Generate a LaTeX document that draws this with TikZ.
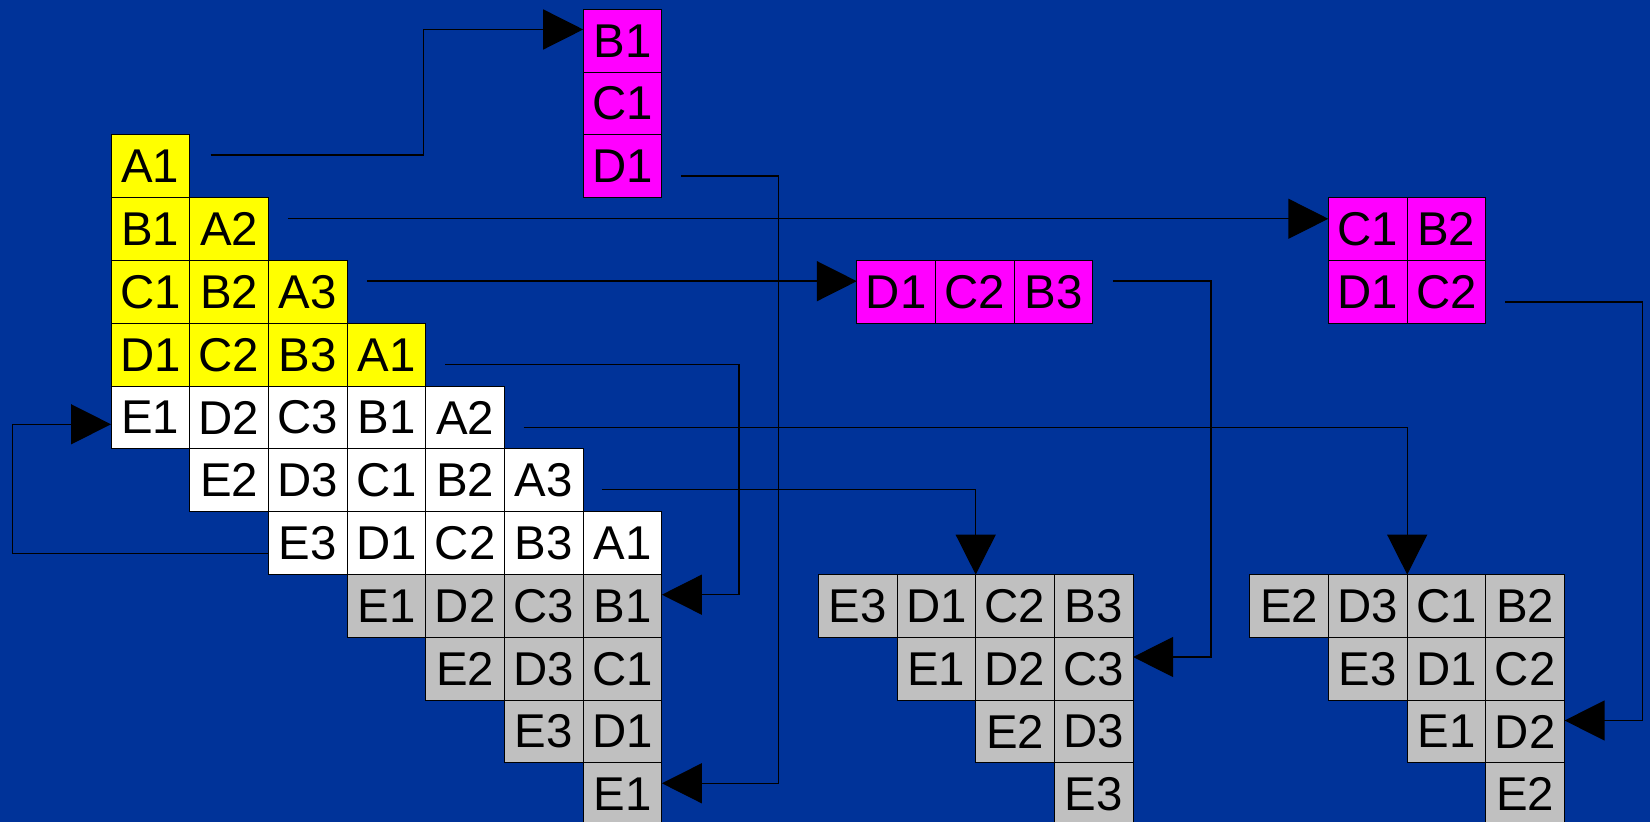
\documentclass[tikz,border=0pt]{standalone}
\usepackage{fontspec}
\setmainfont{Liberation Sans}
\usetikzlibrary{arrows.meta,calc}
\definecolor{bg}{RGB}{0,51,153}
\definecolor{yel}{RGB}{255,255,0}
\definecolor{mag}{RGB}{255,0,255}
\definecolor{gry}{RGB}{192,192,192}
\begin{document}
\begin{tikzpicture}[x=0.5pt,y=-0.5pt,
  cell/.style={draw=black, line width=0.5pt, minimum width=39.35pt, minimum height=31.4pt,
    inner sep=0pt, outer sep=0pt, anchor=north west, font=\fontsize{23.7}{28}\selectfont},
  conn/.style={draw=black, line width=0.7pt, -{Triangle[length=20pt,width=20pt]}}]
\fill[bg] (0,0) rectangle (1650,822);
\useasboundingbox (0,0) rectangle (1650,822);
% main staircase
\foreach \r/\c/\t/\f in {0/0/A1/yel, 1/0/B1/yel, 1/1/A2/yel, 2/0/C1/yel, 2/1/B2/yel, 2/2/A3/yel,
  3/0/D1/yel, 3/1/C2/yel, 3/2/B3/yel, 3/3/A1/yel,
  4/0/E1/white, 4/1/D2/white, 4/2/C3/white, 4/3/B1/white, 4/4/A2/white,
  5/1/E2/white, 5/2/D3/white, 5/3/C1/white, 5/4/B2/white, 5/5/A3/white,
  6/2/E3/white, 6/3/D1/white, 6/4/C2/white, 6/5/B3/white, 6/6/A1/white,
  7/3/E1/gry, 7/4/D2/gry, 7/5/C3/gry, 7/6/B1/gry,
  8/4/E2/gry, 8/5/D3/gry, 8/6/C1/gry,
  9/5/E3/gry, 9/6/D1/gry,
  10/6/E1/gry}
  \node[cell, fill=\f] (m\r-\c) at ({111+\c*78.7},{135+\r*62.8}) {\t};
% top magenta column
\foreach \r/\t/\n in {-2/B1/tB, -1/C1/tC, 0/D1/tD}
  \node[cell, fill=mag] (\n) at (583.2,{135+\r*62.8}) {\t};
% middle magenta row
\foreach \c/\t in {0/D1, 1/C2, 2/B3}
  \node[cell, fill=mag] (q\c) at ({856.8+\c*78.7},{135+2*62.8}) {\t};
% right magenta block
\foreach \r/\c/\t in {1/0/C1, 1/1/B2, 2/0/D1, 2/1/C2}
  \node[cell, fill=mag] (p\r-\c) at ({1328.3+\c*78.7},{135+\r*62.8}) {\t};
% middle gray staircase
\foreach \r/\c/\t in {7/0/E3, 7/1/D1, 7/2/C2, 7/3/B3, 8/1/E1, 8/2/D2, 8/3/C3, 9/2/E2, 9/3/D3, 10/3/E3}
  \node[cell, fill=gry] (g\r-\c) at ({818.3+\c*78.7},{135+\r*62.8}) {\t};
% right gray staircase
\foreach \r/\c/\t in {7/0/E2, 7/1/D3, 7/2/C1, 7/3/B2, 8/1/E3, 8/2/D1, 8/3/C2, 9/2/E1, 9/3/D2, 10/3/E2}
  \node[cell, fill=gry] (h\r-\c) at ({1249.8+\c*78.7},{135+\r*62.8}) {\t};
% connectors
\draw[conn] ($(m0-0.east)+(21,-11.5)$) -- ++(213,0) |- ($(tB.west)+(0,-11.3)$);
\draw[conn] ($(m1-1.east)+(19.5,-10.4)$) -- ($(p1-0.west)+(0,-10.4)$);
\draw[conn] ($(m2-2.east)+(19.7,-10.8)$) -- ($(q0.west)+(0,-10.8)$);
\draw[conn] ($(m3-3.east)+(19.6,9.9)$) -- ++(293.4,0) |- ($(m7-6.east)+(0,-11.3)$);
\draw[conn] ($(tD.east)+(19.5,9.6)$) -- ++(96.8,0) |- ($(m10-6.east)+(0,-11.1)$);
\draw[conn] ($(m4-4.east)+(19,9.7)$) -| (h7-2.north west);
\draw[conn] ($(m5-5.east)+(19,8.9)$) -| (g7-2.north west);
\draw[conn] ($(q2.east)+(20,-10.9)$) -- ++(98,0) |- ($(g8-3.east)+(0,-11.8)$);
\draw[conn] ($(p2-1.east)+(19.6,10)$) -- ++(137,0) |- ($(h9-3.east)+(0,-11.1)$);
\draw[conn] ($(m6-2.west)+(0,10.1)$) -- ++(-255.9,0) |- ($(m4-0.west)+(0,6.7)$);
\end{tikzpicture}
\end{document}
